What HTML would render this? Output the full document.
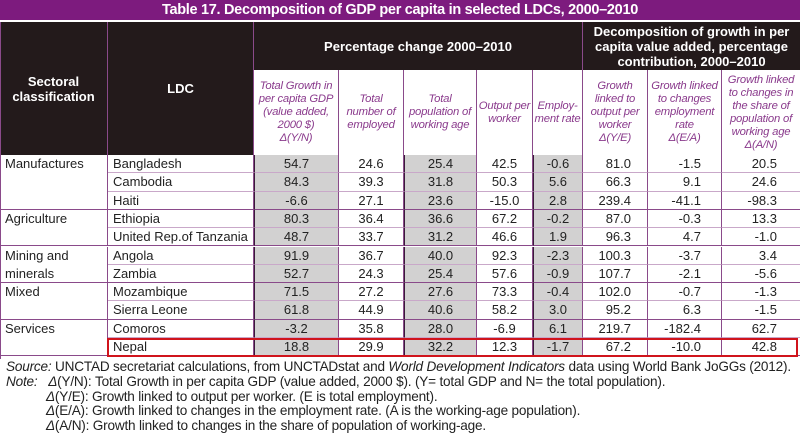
<!DOCTYPE html>
<html><head><meta charset="utf-8"><style>
html,body{margin:0;padding:0;background:#fff;}
#root{position:relative;width:800px;height:434px;overflow:hidden;font-family:"Liberation Sans",Arial,sans-serif;color:#222;}
.a{position:absolute;box-sizing:border-box;}
.title{left:0;top:0;width:800px;height:20px;background:#7d1b7e;color:#fff;font-weight:bold;font-size:14.5px;text-align:center;line-height:20px;letter-spacing:-0.3px;}
.hd{background:#231a1b;color:#fff;font-weight:bold;font-size:13px;display:flex;align-items:center;justify-content:center;text-align:center;line-height:15px;border-right:1px solid #8a4a8a;}
.sub{background:#fff;color:#8a3a8c;font-style:italic;font-size:11.3px;display:flex;align-items:center;justify-content:center;text-align:center;line-height:13px;border-right:1px solid #8a4a8a;letter-spacing:-0.2px;}
.cell{font-size:13px;line-height:18px;border-right:1px solid #8a4a8a;border-bottom:1px solid #b98ab9;white-space:nowrap;}
.grey{background:#d2d1d1;}
.foot{left:6px;font-size:13.6px;line-height:14px;white-space:nowrap;letter-spacing:-0.2px;}
</style></head><body>
<div id="root">
<div class="a title">Table 17. Decomposition of GDP per capita in selected LDCs, 2000–2010</div>
<div class="a hd" style="left:0;top:22px;width:108px;height:133px">Sectoral<br>classification</div>
<div class="a hd" style="left:108px;top:22px;width:146px;height:133px">LDC</div>
<div class="a hd" style="left:254px;top:22px;width:329px;height:48px">Percentage change 2000–2010</div>
<div class="a hd" style="left:583px;top:22px;width:217px;height:48px;border-right:none">Decomposition of growth in per<br>capita value added, percentage<br>contribution, 2000–2010</div>
<div class="a" style="left:0;top:22px;width:1px;height:337px;background:#8a4a8a"></div>
</div>
<script>
const cols=[0,108,254,339,404,477,533,583,648,722,800];
const subs=["Total Growth in<br>per capita GDP<br>(value added,<br>2000 $)<br>Δ(Y/N)","Total<br>number of<br>employed","Total<br>population of<br>working age","Output per<br>worker","Employ-<br>ment rate","Growth<br>linked to<br>output per<br>worker<br>Δ(Y/E)","Growth linked<br>to changes<br>employment<br>rate<br>Δ(E/A)","Growth linked<br>to changes in<br>the share of<br>population of<br>working age<br>Δ(A/N)"];
const sectors=["Manufactures","","","Agriculture","","Mining and<br>minerals","","Mixed","","Services",""];
const countries=["Bangladesh","Cambodia","Haiti","Ethiopia","United Rep.of Tanzania","Angola","Zambia","Mozambique","Sierra Leone","Comoros","Nepal"];
const totalGrowth=["54.7","84.3","-6.6","80.3","48.7","91.9","52.7","71.5","61.8","-3.2","18.8"];
const employed=["24.6","39.3","27.1","36.4","33.7","36.7","24.3","27.2","44.9","35.8","29.9"];
const workingAge=["25.4","31.8","23.6","36.6","31.2","40.0","25.4","27.6","40.6","28.0","32.2"];
const outputPerWorker=["42.5","50.3","-15.0","67.2","46.6","92.3","57.6","73.3","58.2","-6.9","12.3"];
const employmentRate=["-0.6","5.6","2.8","-0.2","1.9","-2.3","-0.9","-0.4","3.0","6.1","-1.7"];
const dYE=["81.0","66.3","239.4","87.0","96.3","100.3","107.7","102.0","95.2","219.7","67.2"];
const dEA=["-1.5","9.1","-41.1","-0.3","4.7","-3.7","-2.1","-0.7","6.3","-182.4","-10.0"];
const dAN=["20.5","24.6","-98.3","13.3","-1.0","3.4","-5.6","-1.3","-1.5","62.7","42.8"];
const series=[totalGrowth,employed,workingAge,outputPerWorker,employmentRate,dYE,dEA,dAN];
const seriesNames=["total-growth","employed","working-age","output-per-worker","employment-rate","growth-output-per-worker","growth-employment-rate","growth-working-age-share"];
const root=document.getElementById('root');
function mk(cls,l,t,w,h,html){const d=document.createElement('div');d.className='a '+cls;d.style.left=l+'px';d.style.top=t+'px';d.style.width=w+'px';d.style.height=h+'px';d.innerHTML=html;root.appendChild(d);return d;}
for(let i=0;i<8;i++){
  const d=mk('sub',cols[i+2],70,cols[i+3]-cols[i+2],85,subs[i]);
  
  
  if(i==7)d.style.borderRight='none';
}
const top0=155,rh=18.3;
const groupEnds=[2,4,6,8,10];
for(let r=0;r<11;r++){
  const y=top0+r*rh;
  const bb=groupEnds.includes(r)?'1px solid #8a4a8a':'1px solid #c9a8c9';
  const s=mk('cell',0,y,108,rh,sectors[r]);
  s.style.paddingLeft='5px';s.style.lineHeight='18px';s.style.whiteSpace='normal';s.style.overflow='visible';
  s.style.borderBottom=groupEnds.includes(r)?'1px solid #8a4a8a':'none';
  
  
  const c=mk('cell',108,y,146,rh,countries[r]);
  c.style.paddingLeft='5px';c.style.borderBottom=bb;
  
  
  for(let k=0;k<8;k++){
    const x0=cols[k+2],w=cols[k+3]-x0;
    const v=mk('cell'+((k==0||k==2||k==4)?' grey':''),x0,y,w,rh,series[k][r]);
    v.style.borderBottom=bb;
    if(k<5){v.style.textAlign='center';}else{v.style.textAlign='right';v.style.paddingRight=[16,20,23][k-5]+'px';}
    if(k==0||k==2||k==4){v.style.borderLeft='1px solid #3a1a3a';}
    if(k==7)v.style.borderRight='none';
    
    
  }
}
const box=mk('',107,top0+10*rh,691,rh+1,'');
box.style.border='2px solid #d0141c';


const feet=["<i>Source:</i> UNCTAD secretariat calculations, from UNCTADstat and <i>World Development Indicators</i> data using World Bank JoGGs (2012).",
"<i>Note:</i>&nbsp;&nbsp;&nbsp;<i>Δ</i>(Y/N): Total Growth in per capita GDP (value added, 2000 $). (Y= total GDP and N= the total population).",
"<span style='padding-left:40px'><i>Δ</i>(Y/E): Growth linked to output per worker. (E is total employment).</span>",
"<span style='padding-left:40px'><i>Δ</i>(E/A): Growth linked to changes in the employment rate. (A is the working-age population).</span>",
"<span style='padding-left:40px'><i>Δ</i>(A/N): Growth linked to changes in the share of population of working-age.</span>"];
for(let i=0;i<5;i++){
  const f=document.createElement('div');f.className='a foot';f.style.top=(360+i*14.8)+'px';f.innerHTML=feet[i];root.appendChild(f);
  
  
}
</script>
</body></html>
